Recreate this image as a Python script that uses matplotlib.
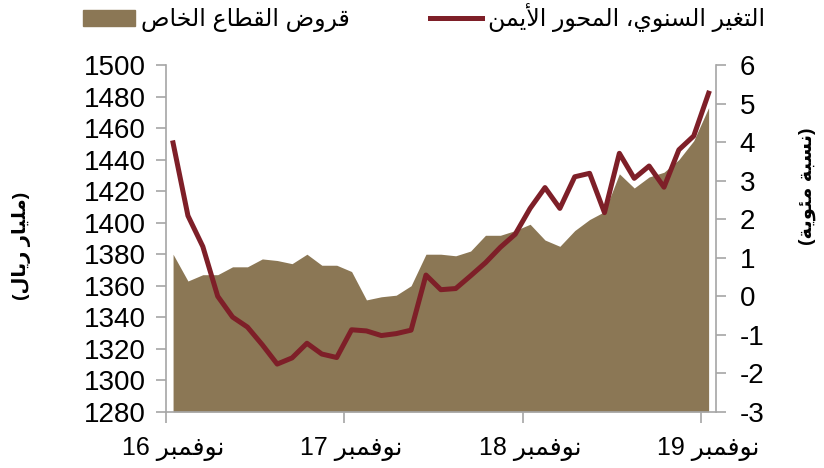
import re
import matplotlib
matplotlib.use("Agg")
import matplotlib.pyplot as plt
from matplotlib.patches import Patch
from matplotlib.lines import Line2D

plt.rcParams['font.family'] = ['Liberation Sans', 'DejaVu Sans']
plt.rcParams['axes.unicode_minus'] = False

# monthly, Nov 2016 .. Nov 2019
months = list(range(37))
label_pos = [0, 12, 24, 36]
tick_labels = ['نوفمبر 16', 'نوفمبر 17', 'نوفمبر 18', 'نوفمبر 19']

# private sector loans (billion riyal, left axis)
loans = [1380, 1363, 1367, 1367, 1372, 1372, 1377, 1376, 1374, 1380, 1373, 1373,
         1369, 1351, 1353, 1354, 1360, 1380, 1380, 1379, 1382, 1392, 1392, 1395,
         1399, 1389, 1385, 1395, 1402, 1407, 1431, 1422, 1429, 1432, 1440, 1452,
         1473]

# year-on-year change (%, right axis)
yoy = [3.98, 2.09, 1.29, 0.0, -0.54, -0.80, -1.26, -1.76, -1.60, -1.22, -1.50, -1.59,
       -0.87, -0.90, -1.02, -0.97, -0.88, 0.55, 0.17, 0.20, 0.53, 0.87, 1.27, 1.61,
       2.28, 2.82, 2.28, 3.10, 3.19, 2.17, 3.71, 3.06, 3.38, 2.83, 3.80, 4.16,
       5.27]

legend_labels = ['قروض القطاع الخاص', 'التغير السنوي، المحور الأيمن']
left_title = '(مليار ريال)'
right_title = '(نسبة مئوية)'

BROWN = '#8B7755'
RED = '#7E1F28'
GRAY = '#A6A6A6'

# matplotlib does no arabic shaping, so pick presentation forms by hand
FORMS = {
    'أ': ('\uFE83', '\uFE84'),
    'ئ': ('\uFE89', '\uFE8A', '\uFE8B', '\uFE8C'),
    'ا': ('\uFE8D', '\uFE8E'),
    'ب': ('\uFE8F', '\uFE90', '\uFE91', '\uFE92'),
    'ة': ('\uFE93', '\uFE94'),
    'ت': ('\uFE95', '\uFE96', '\uFE97', '\uFE98'),
    'ح': ('\uFEA1', '\uFEA2', '\uFEA3', '\uFEA4'),
    'خ': ('\uFEA5', '\uFEA6', '\uFEA7', '\uFEA8'),
    'ر': ('\uFEAD', '\uFEAE'),
    'س': ('\uFEB1', '\uFEB2', '\uFEB3', '\uFEB4'),
    'ص': ('\uFEB9', '\uFEBA', '\uFEBB', '\uFEBC'),
    'ض': ('\uFEBD', '\uFEBE', '\uFEBF', '\uFEC0'),
    'ط': ('\uFEC1', '\uFEC2', '\uFEC3', '\uFEC4'),
    'ع': ('\uFEC9', '\uFECA', '\uFECB', '\uFECC'),
    'غ': ('\uFECD', '\uFECE', '\uFECF', '\uFED0'),
    'ف': ('\uFED1', '\uFED2', '\uFED3', '\uFED4'),
    'ق': ('\uFED5', '\uFED6', '\uFED7', '\uFED8'),
    'ل': ('\uFEDD', '\uFEDE', '\uFEDF', '\uFEE0'),
    'م': ('\uFEE1', '\uFEE2', '\uFEE3', '\uFEE4'),
    'ن': ('\uFEE5', '\uFEE6', '\uFEE7', '\uFEE8'),
    'و': ('\uFEED', '\uFEEE'),
    'ي': ('\uFEF1', '\uFEF2', '\uFEF3', '\uFEF4'),
    'لا': ('\uFEFB', '\uFEFC'),
    'لأ': ('\uFEF7', '\uFEF8'),
}


def ar(text):
    units = []
    i = 0
    while i < len(text):
        if text[i:i + 2] in FORMS:
            units.append(text[i:i + 2])
            i += 2
        else:
            units.append(text[i])
            i += 1
    out = []
    for k, u in enumerate(units):
        f = FORMS.get(u)
        if f is None:
            out.append(u)
            continue
        prev = units[k - 1] if k > 0 else None
        nxt = units[k + 1] if k + 1 < len(units) else None
        jp = prev in FORMS and len(FORMS[prev]) == 4
        jn = len(f) == 4 and nxt in FORMS
        if jp and jn:
            out.append(f[3])
        elif jp:
            out.append(f[1])
        elif jn:
            out.append(f[2])
        else:
            out.append(f[0])
    s = ''.join(out)[::-1]
    s = re.sub(r'\d+', lambda m: m.group(0)[::-1], s)
    return s.translate(str.maketrans('()', ')('))


fig = plt.figure(figsize=(8.24, 4.68), dpi=100)
ax = fig.add_axes([0.201, 0.120, 0.668, 0.741])
ax2 = ax.twinx()

ax.fill_between(months, 1280, loans, color=BROWN, lw=0)
ax2.plot(months, yoy, color=RED, lw=3.6)

ax.set_xlim(-0.5, 36.5)
ax.set_ylim(1280, 1500)
ax.set_yticks(range(1280, 1501, 20))
ax2.set_ylim(-3, 6)
ax2.set_yticks(range(-3, 7))

# tick marks between categories, labels on the november points
ax.set_xticks([-0.5, 11.5, 23.5, 35.5])
ax.set_xticklabels([])
ax.set_xticks(label_pos, minor=True)
ax.set_xticklabels([ar(t) for t in tick_labels], minor=True)
ax.tick_params(axis='x', which='minor', length=0, pad=18, labelsize=18)
ax.tick_params(axis='x', which='major', length=8, width=1.2, color=GRAY)
ax.tick_params(axis='y', length=7, width=1.2, color=GRAY, labelsize=20, pad=7)
ax2.tick_params(axis='y', length=7, width=1.2, color=GRAY, labelsize=20, pad=10)

for a in (ax, ax2):
    a.spines['top'].set_visible(False)
    for sp in a.spines.values():
        sp.set_color(GRAY)
        sp.set_linewidth(1.2)
ax.spines['right'].set_visible(False)
ax2.spines['left'].set_visible(False)
ax2.spines['bottom'].set_visible(False)

fig.text(0.026, 1 - 246 / 468, ar(left_title), rotation=90, fontsize=14,
         fontweight='bold', ha='center', va='center')
fig.text(0.980, 1 - 186 / 468, ar(right_title), rotation=90, fontsize=14,
         fontweight='bold', ha='center', va='center')

handles = [Patch(color=BROWN), Line2D([], [], color=RED, lw=3.6)]
fig.legend(handles, [ar(t) for t in legend_labels], loc='center',
           bbox_to_anchor=(0.515, 0.962), ncol=2, frameon=False, fontsize=17,
           handlelength=2.2, handletextpad=0.25, columnspacing=3.4)

fig.savefig('out.png', dpi=100)
